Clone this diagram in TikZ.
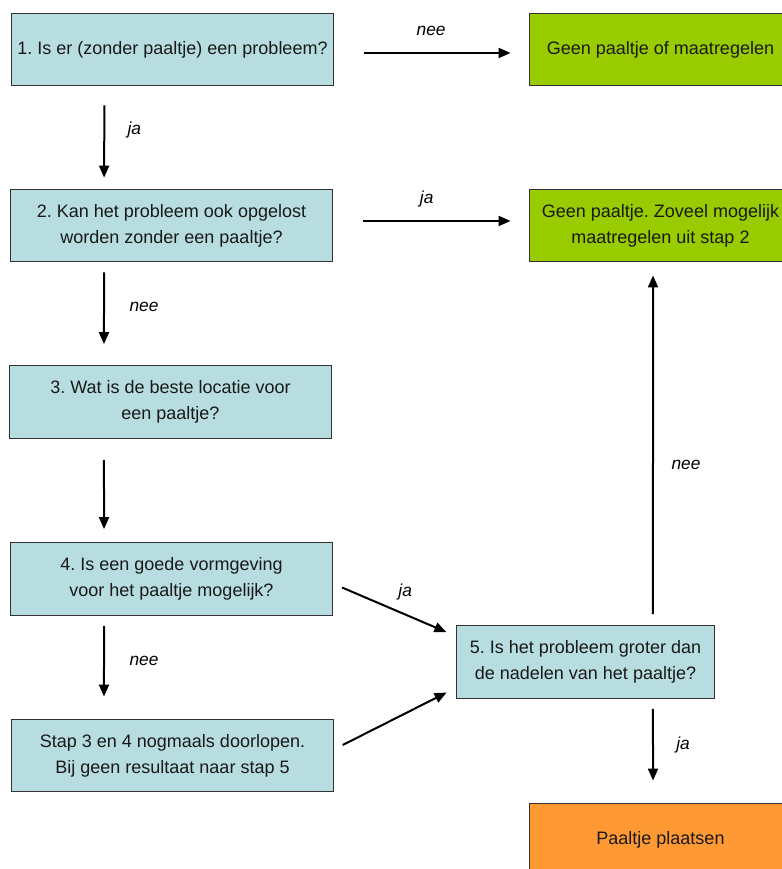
\documentclass[tikz,border=0pt]{standalone}
\usepackage{fontspec}
\setmainfont{Liberation Sans}
\usetikzlibrary{arrows.meta}
\definecolor{stapblauw}{RGB}{183,221,224}
\definecolor{nee-groen}{RGB}{153,204,0}
\definecolor{oranje}{RGB}{255,153,51}
\definecolor{rand}{RGB}{50,50,50}
\frenchspacing
\begin{document}
\begin{tikzpicture}[x=0.75pt,y=-0.75pt,
  box/.style={draw=rand, line width=0.9pt, align=center, text=black!90,
    font=\fontsize{13.5}{19.5}\selectfont, minimum height=54.5pt, inner sep=0pt},
  vraag/.style={box, fill=stapblauw, minimum width=241pt},
  uitkomst/.style={box, fill=nee-groen, minimum width=197pt},
  actie/.style={box, fill=oranje, minimum width=197pt},
  arr/.style={-{Triangle[length=9pt,width=7.5pt]}, line width=1.5pt},
  lbl/.style={font=\fontsize{13}{15}\selectfont\itshape, inner sep=0pt}]
\clip (0,0) rectangle (782,869);
\fill[white] (0,0) rectangle (782,869);
\node[vraag] (q1) at (172.5,49.5) {1. Is er (zonder paaltje) een probleem?};
\node[uitkomst] (g1) at (660.5,49.5) {Geen paaltje of maatregelen};
\node[vraag] (q2) at (171.5,225.5) {2. Kan het probleem ook opgelost\\worden zonder een paaltje?};
\node[uitkomst] (g2) at (660.5,225.5) {Geen paaltje. Zoveel mogelijk\\maatregelen uit stap 2};
\node[vraag] (q3) at (170.5,402) {3. Wat is de beste locatie voor\\een paaltje?};
\node[vraag] (q4) at (171.5,579) {4. Is een goede vormgeving\\voor het paaltje mogelijk?};
\node[vraag] (q6) at (172.5,755.5) {Stap 3 en 4 nogmaals doorlopen.\\Bij geen resultaat naar stap 5};
\node[vraag, minimum width=194pt] (q5) at (585.5,662) {5. Is het probleem groter dan\\de nadelen van het paaltje?};
\node[actie] (o) at (660.5,839.5) {Paaltje plaatsen};
% horizontale pijlen
\draw[arr, shorten <=22.5pt, shorten >=13.5pt] ([yshift=-2.6pt]q1.east) -- ([yshift=-2.6pt]g1.west)
  node[lbl, midway, yshift=16.5pt] {nee};
\draw[arr, shorten <=22.5pt, shorten >=13.5pt] ([yshift=3.4pt]q2.east) -- ([yshift=3.4pt]g2.west)
  node[lbl, midway, xshift=-3pt, yshift=16.5pt] {ja};
% linker kolom
\draw[arr, shorten <=14.25pt, shorten >=8.25pt] ([xshift=-51pt]q1.south) -- ([xshift=-50.6pt]q2.north)
  node[lbl, midway, xshift=22.5pt, yshift=5.6pt] {ja};
\draw[arr, shorten <=7.5pt, shorten >=15.75pt] ([xshift=-50.6pt]q2.south) -- ([xshift=-49.9pt]q3.north)
  node[lbl, midway, xshift=30pt, yshift=4.9pt] {nee};
\draw[arr, shorten <=15.75pt, shorten >=9.75pt] ([xshift=-49.9pt]q3.south) -- ([xshift=-50.6pt]q4.north);
\draw[arr, shorten <=7.5pt, shorten >=16.5pt] ([xshift=-50.6pt]q4.south) -- ([xshift=-51.4pt]q6.north)
  node[lbl, midway, xshift=30pt, yshift=4.5pt] {nee};
% naar stap 5
\draw[arr, shorten <=7.5pt, shorten >=7.5pt] ([yshift=-3.4pt]q4.east) -- ([yshift=19.5pt]q5.west)
  node[lbl, midway, xshift=8.25pt, yshift=13.1pt] {ja};
\draw[arr, shorten <=7.5pt, shorten >=7.5pt] ([yshift=4.5pt]q6.east) -- ([yshift=-19.5pt]q5.west);
% rechter kolom
\draw[arr, shorten <=8.25pt, shorten >=9.75pt] ([xshift=50.6pt]q5.north) -- ([xshift=-5.6pt]g2.south)
  node[lbl, midway, xshift=24.75pt, yshift=-15.75pt] {nee};
\draw[arr, shorten <=7.5pt, shorten >=16.5pt] ([xshift=50.6pt]q5.south) -- ([xshift=-5.6pt]o.north)
  node[lbl, midway, xshift=22.5pt, yshift=4.1pt] {ja};
\end{tikzpicture}
\end{document}
